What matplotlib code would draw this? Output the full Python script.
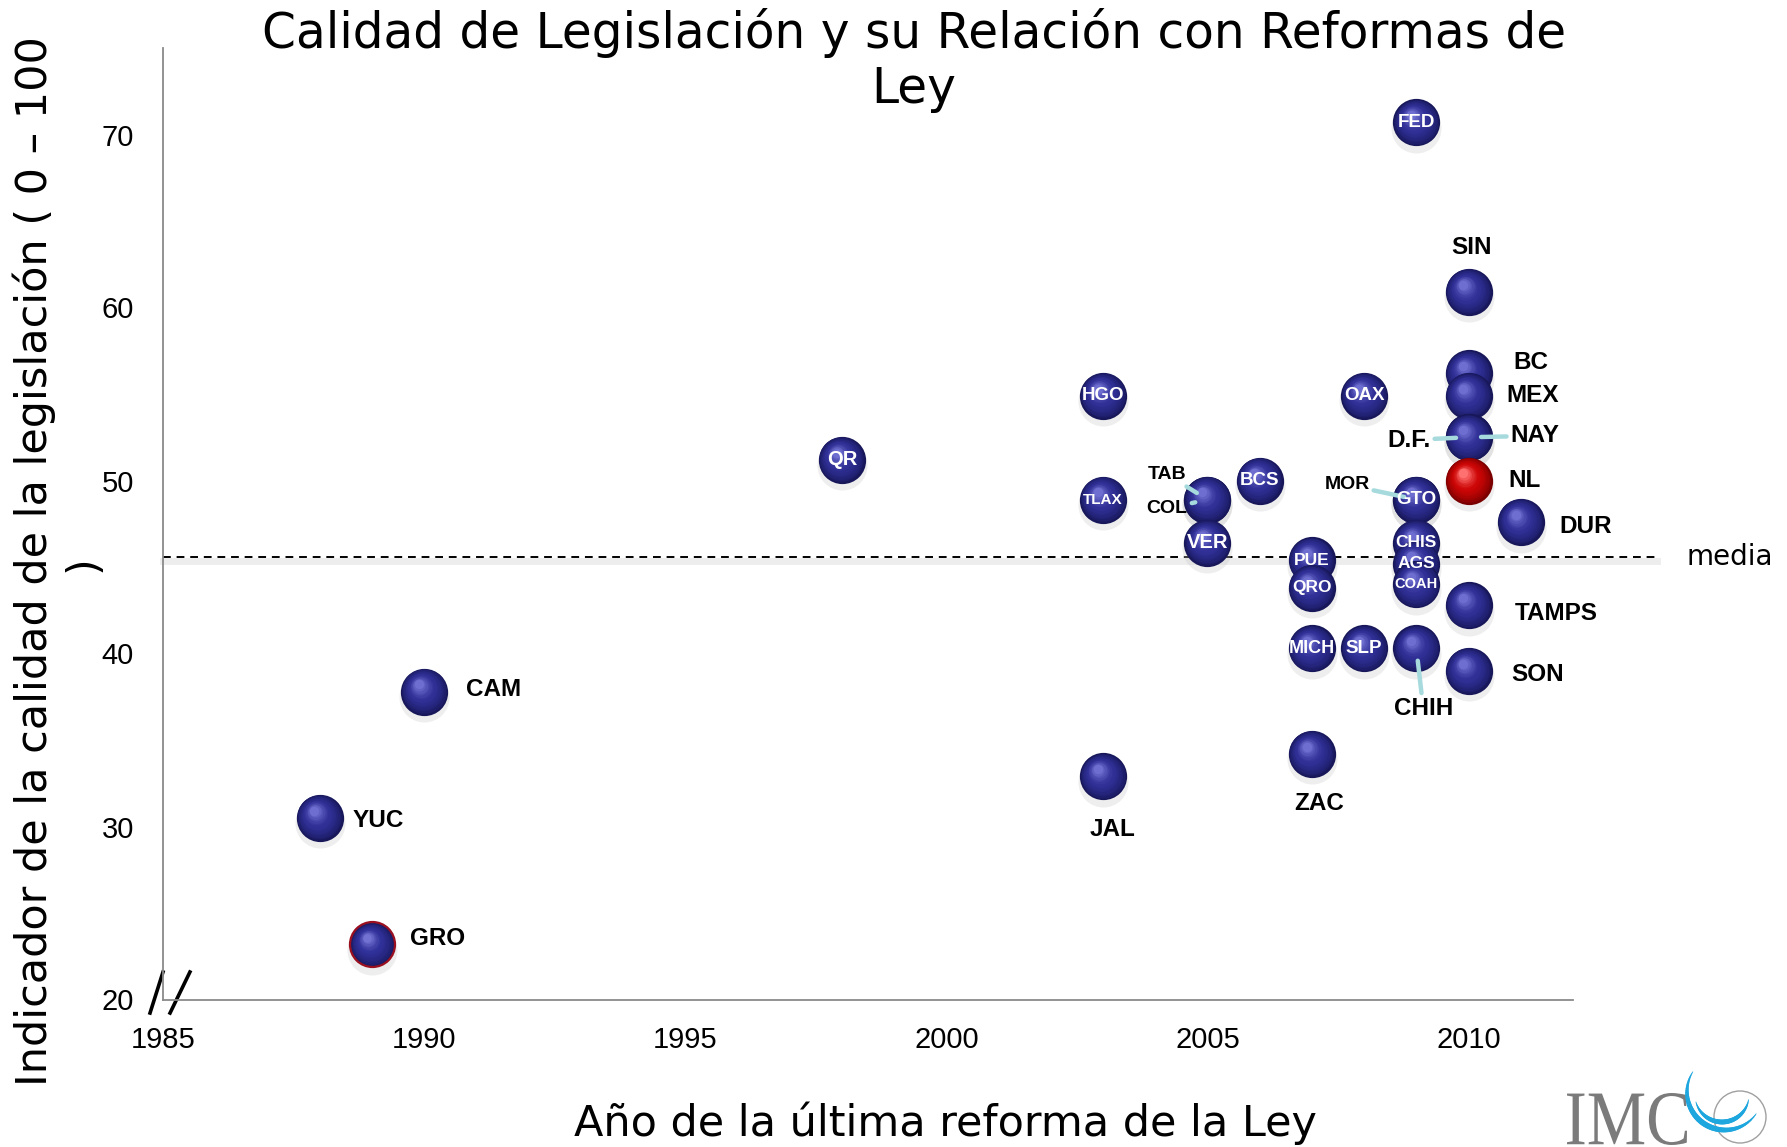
import numpy as np
import matplotlib
matplotlib.use('Agg')
import matplotlib.pyplot as plt
from matplotlib.transforms import offset_copy, Affine2D
from matplotlib.textpath import TextPath
from matplotlib.font_manager import FontProperties
from matplotlib.patches import PathPatch, Circle
from matplotlib.collections import LineCollection
from matplotlib.colors import to_rgb

# data
estados = ['FED', 'SIN', 'BC', 'MEX', 'NAY', 'D.F.', 'NL', 'DUR', 'TAMPS', 'SON',
           'OAX', 'GTO', 'MOR', 'CHIS', 'AGS', 'COAH', 'CHIH', 'MICH', 'SLP', 'PUE',
           'QRO', 'ZAC', 'BCS', 'TAB', 'COL', 'VER', 'HGO', 'TLAX', 'JAL', 'QR',
           'CAM', 'YUC', 'GRO']
anio = [2009, 2010, 2010, 2010, 2010, 2010, 2010, 2011, 2010, 2010,
        2008, 2009, 2009, 2009, 2009, 2009, 2009, 2007, 2008, 2007,
        2007, 2007, 2006, 2005, 2005, 2005, 2003, 2003, 2003, 1998,
        1990, 1988, 1989]
calidad = [70.7, 60.9, 56.2, 54.9, 52.5, 52.5, 50.0, 47.6, 42.8, 39.0,
           54.9, 48.9, 48.9, 46.4, 45.2, 44.0, 40.3, 40.3, 40.3, 45.4,
           43.8, 34.2, 50.0, 48.9, 48.9, 46.4, 54.9, 48.9, 32.9, 51.2,
           37.8, 30.5, 23.2]
media = 45.6

x_ticks = [1985, 1990, 1995, 2000, 2005, 2010]
y_ticks = [20, 30, 40, 50, 60, 70]

# labels written on the ball (white) and font size
dentro = {'FED': 13.5, 'HGO': 13.5, 'OAX': 13.5, 'QR': 14.5, 'BCS': 13.5, 'TLAX': 11,
          'GTO': 13.5, 'VER': 14.5, 'CHIS': 12.5, 'PUE': 12.5, 'AGS': 12.5, 'QRO': 12.5,
          'COAH': 10.5, 'MICH': 13, 'SLP': 13.5}
# labels beside the ball: offset in points, font size, leader line
fuera = {
    'SIN': ((2.5, 32), 17.5, False), 'BC': ((45, 8), 17.5, False),
    'MEX': ((46, 0), 17.5, False), 'NAY': ((48, 1), 17.5, True),
    'D.F.': ((-43, -2), 17.5, True), 'NL': ((40, 0), 17.5, False),
    'DUR': ((47, -3), 17.5, False), 'TAMPS': ((63, -6), 17.5, False),
    'SON': ((50, -2.5), 17.5, False), 'CHIH': ((5, -43.5), 17.5, True),
    'ZAC': ((5, -36), 17.5, False), 'JAL': ((6.5, -38), 17.5, False),
    'CAM': ((50, 1.6), 17.5, False), 'YUC': ((42, -1.6), 17.5, False),
    'GRO': ((47.6, 4), 17.5, False), 'MOR': ((-50, 10.7), 14, True),
    'TAB': ((-29, 18), 14, True), 'COL': ((-29, -6.6), 14, True),
}

narrow = ['Liberation Sans Narrow', 'Liberation Sans', 'DejaVu Sans']

fig = plt.figure(figsize=(17.87, 11.47), dpi=100)
ax = fig.add_axes([163 / 1787, 1 - 999.5 / 1147, 1410 / 1787, 951.5 / 1147])
ax.set_xlim(1985, 2012)
ax.set_ylim(20, 75)


def draw_ball(x, y, dark, mid, light, z, rim=None):
    R = 17.0  # radius in points
    n = 14
    # soft shadow
    tr = offset_copy(ax.transData, fig=fig, x=0, y=-4, units='points')
    ax.scatter([x], [y], s=(2 * R + 2) ** 2, color='#c8c8c8', alpha=0.3,
               lw=0, transform=tr, zorder=z)
    if rim is not None:
        ax.scatter([x], [y], s=(2 * R) ** 2, color=rim, lw=0, zorder=z + 0.01)
        R0 = R - 1.6
    else:
        R0 = R
    d = np.array(to_rgb(dark))
    m = np.array(to_rgb(mid))
    li = np.array(to_rgb(light))
    for i in range(n):
        t = i / (n - 1)
        r = R0 * (1 - 0.8 * t)
        if t < 0.5:
            c = d + (m - d) * (t / 0.5) ** 0.7
        else:
            c = m + (li - m) * ((t - 0.5) / 0.5) ** 1.5
        tr = offset_copy(ax.transData, fig=fig, x=-0.22 * R0 * t,
                         y=0.3 * R0 * t, units='points')
        ax.scatter([x], [y], s=(2 * r) ** 2, color=tuple(c), lw=0,
                   transform=tr, zorder=z + 0.02 + i * 0.001)


orden = np.argsort(-np.array(calidad), kind='stable')
for k, i in enumerate(orden):
    e = estados[i]
    z = 3 + k * 0.1
    if e == 'NL':
        draw_ball(anio[i], calidad[i], '#7a0000', '#cc0505', '#ff7070', z)
    elif e == 'GRO':
        draw_ball(anio[i], calidad[i], '#1c1c66', '#30309a', '#7272d2', z, rim='#9a1020')
    else:
        draw_ball(anio[i], calidad[i], '#17175a', '#2f2f96', '#6e6ed0', z)

for i, e in enumerate(estados):
    if e in dentro:
        ax.text(anio[i], calidad[i], e, color='white', fontsize=dentro[e],
                fontweight='bold', family=narrow, ha='center', va='center',
                zorder=20)
    else:
        (dx, dy), fs, linea = fuera[e]
        props = None
        if linea:
            props = dict(arrowstyle='-', color='#a6dadd', lw=3.2,
                         shrinkA=1, shrinkB=9)
        ax.annotate(e, (anio[i], calidad[i]), xytext=(dx, dy),
                    textcoords='offset points', ha='center', va='center',
                    fontsize=fs, fontweight='bold', family=narrow,
                    arrowprops=props, zorder=19)

# media line
ax.plot([1985, 2013.6], [media - 0.25, media - 0.25], color='#bbbbbb', lw=5,
        alpha=0.25, clip_on=False, zorder=2)
ax.plot([1985, 2013.6], [media, media], color='black', lw=1.4,
        ls=(0, (4, 3)), clip_on=False, zorder=2.5)
ax.text(2014.17, media, 'media', fontsize=20, va='center', ha='left')

# axes style
for s in ['top', 'right']:
    ax.spines[s].set_visible(False)
for s in ['left', 'bottom']:
    ax.spines[s].set_color('#8a8a8a')
    ax.spines[s].set_linewidth(1.3)
ax.set_xticks(x_ticks)
ax.set_yticks(y_ticks)
ax.tick_params(axis='both', length=0, labelsize=21)
ax.tick_params(axis='y', pad=21)
ax.tick_params(axis='x', pad=19)
for lab in ax.get_xticklabels() + ax.get_yticklabels():
    lab.set_family(narrow)

# axis break marks
ax.plot([-0.0092, 0.0], [-0.0142, 0.0289], transform=ax.transAxes,
        color='black', lw=2.6, clip_on=False)
ax.plot([0.0050, 0.0191], [-0.0142, 0.0289], transform=ax.transAxes,
        color='black', lw=2.6, clip_on=False)

# titles
fig.text(914 / 1787, 1 - 48 / 1147,
         'Calidad de Legislación y su Relación con Reformas de',
         ha='center', va='baseline', fontsize=35)
fig.text(914 / 1787, 1 - 103 / 1147, 'Ley',
         ha='center', va='baseline', fontsize=35)
fig.text(945 / 1787, 1 - 1123 / 1147, 'Año de la última reforma de la Ley',
         ha='center', va='center', fontsize=31)
fig.text(34 / 1787, 1 - 561 / 1147,
         'Indicador de la calidad de la legislación ( 0 – 100',
         rotation=90, ha='center', va='center', fontsize=31)
fig.text(84 / 1787, 1 - 564 / 1147, ')',
         rotation=90, ha='center', va='center', fontsize=31)

# IMCO logo
axl = fig.add_axes([1520 / 1787, 0, 267 / 1787, 107 / 1147])
axl.set_xlim(0, 267)
axl.set_ylim(107, 0)
axl.axis('off')
tp = TextPath((0, 0), 'IMC', size=1, prop=FontProperties(family='Liberation Serif'))
bb = tp.get_extents()
trf = Affine2D().translate(-bb.x0, -bb.y0).scale(120 / bb.width, -52 / bb.height) \
    .translate(47, 105) + axl.transData
axl.add_patch(PathPatch(tp, transform=trf, color='#7b7b7b', lw=0))
axl.add_patch(Circle((220, 77), 26, fill=False, ec='#a0a0a0', lw=1.0))


def arco(cx, cy, r, a0, a1, wmax):
    th = np.radians(np.linspace(a0, a1, 60))
    px = cx + r * np.cos(th)
    py = cy + r * np.sin(th)
    pts = np.array([px, py]).T.reshape(-1, 1, 2)
    segs = np.concatenate([pts[:-1], pts[1:]], axis=1)
    w = wmax * np.sin(np.linspace(0.15, np.pi - 0.15, len(segs)))
    axl.add_collection(LineCollection(segs, linewidths=w, color='#1ea6de',
                                      capstyle='round'))


arco(205, 52, 38, 212, 35, 4.0)
arco(202, 55, 27, 165, 10, 3.5)

fig.savefig('out.png', dpi=100)
